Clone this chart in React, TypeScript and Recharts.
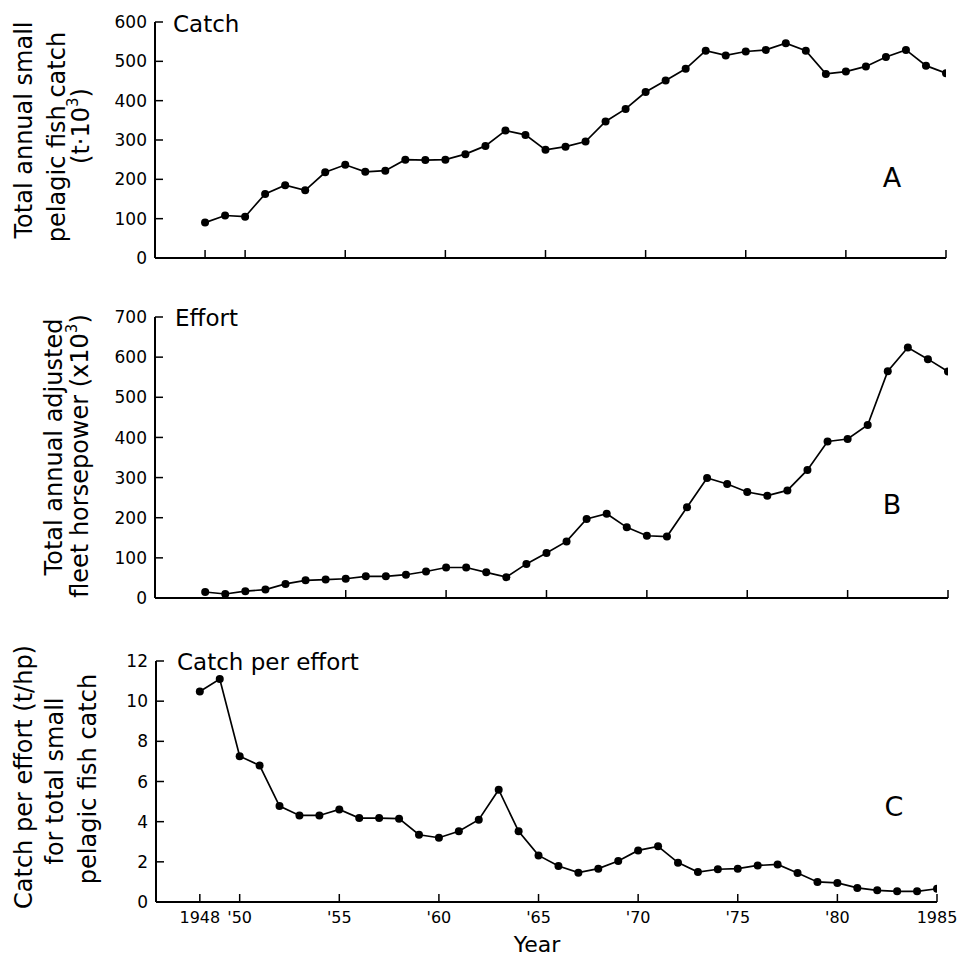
import React from 'react';
import { LineChart, Line, XAxis, YAxis } from 'recharts';

const years = [1948, 1949, 1950, 1951, 1952, 1953, 1954, 1955, 1956, 1957, 1958, 1959, 1960, 1961, 1962, 1963, 1964, 1965, 1966, 1967, 1968, 1969, 1970, 1971, 1972, 1973, 1974, 1975, 1976, 1977, 1978, 1979, 1980, 1981, 1982, 1983, 1984, 1985];
const catchValues = [90, 108, 105, 163, 185, 172, 218, 237, 219, 222, 250, 249, 250, 264, 285, 324, 313, 275, 283, 296, 347, 379, 422, 451, 481, 527, 515, 525, 529, 546, 527, 468, 474, 487, 511, 529, 489, 470];
const effortValues = [15, 10, 17, 21, 35, 44, 46, 48, 54, 54, 58, 66, 76, 76, 64, 52, 85, 112, 141, 197, 210, 176, 155, 153, 226, 299, 284, 264, 255, 268, 319, 390, 396, 431, 565, 624, 595, 564];
const cpueValues = [10.48, 11.1, 7.26, 6.8, 4.78, 4.31, 4.31, 4.61, 4.18, 4.18, 4.15, 3.35, 3.2, 3.52, 4.1, 5.59, 3.52, 2.32, 1.79, 1.46, 1.66, 2.04, 2.57, 2.77, 1.96, 1.49, 1.63, 1.66, 1.82, 1.87, 1.44, 1.0, 0.95, 0.7, 0.58, 0.53, 0.53, 0.66];

const xTicks = [1948, 1950, 1955, 1960, 1965, 1970, 1975, 1980, 1985];
const xTickLabels = ['1948', "'50", "'55", "'60", "'65", "'70", "'75", "'80", '1985'];
const effortXTicks = [1955, 1960, 1965, 1970, 1975, 1980, 1985];
const catchTicks = [0, 100, 200, 300, 400, 500, 600];
const effortTicks = [0, 100, 200, 300, 400, 500, 600, 700];
const cpueTicks = [0, 2, 4, 6, 8, 10, 12];

const catchData = years.map((year, i) => ({ year, value: catchValues[i] }));
const effortData = years.map((year, i) => ({ year, value: effortValues[i] }));
const cpueData = years.map((year, i) => ({ year, value: cpueValues[i] }));

const FONT = "'DejaVu Sans', sans-serif";
const MARGIN = 8;

const YTick = (props: any) => {
  const { x, y, payload } = props;
  const ax = x + MARGIN;
  return (
    <g>
      {payload.value !== 0 && <line x1={ax} y1={y} x2={ax + 8} y2={y} stroke="#000" strokeWidth={1.5} />}
      <text x={x} y={y} dy="0.36em" textAnchor="end" fontSize={17} fontFamily={FONT} fill="#000">
        {payload.value}
      </text>
    </g>
  );
};

const makeXTick = (showLabel: boolean) => (props: any) => {
  const { x, y, payload } = props;
  const ay = y - MARGIN;
  const idx = xTicks.indexOf(payload.value);
  return (
    <g>
      <line x1={x} y1={ay} x2={x} y2={ay - 8} stroke="#000" strokeWidth={1.5} />
      {showLabel && (
        <text x={x} y={y + 2} dy="0.71em" textAnchor="middle" fontSize={16} fontFamily={FONT} fill="#000">
          {idx >= 0 ? xTickLabels[idx] : payload.value}
        </text>
      )}
    </g>
  );
};

const XTickNoLabel = makeXTick(false);
const XTickLabel = makeXTick(true);

const dotStyle = { r: 4, fill: '#000', stroke: '#000', strokeWidth: 0 };

const Panel = (p: any) => (
  <div style={{ position: 'absolute', left: 0, top: p.top }}>
    <LineChart width={961} height={p.height} data={p.data} margin={{ top: p.mTop, right: p.mRight, bottom: 0, left: 0 }}>
      <XAxis
        dataKey="year"
        type="number"
        domain={p.xDomain}
        ticks={p.xTicks}
        allowDataOverflow
        height={p.xHeight}
        tickSize={0}
        tickMargin={MARGIN}
        tickLine={false}
        axisLine={{ stroke: '#000', strokeWidth: 2 }}
        tick={p.showLabels ? XTickLabel : XTickNoLabel}
        interval={0}
      />
      <YAxis
        type="number"
        domain={p.yDomain}
        ticks={p.yTicks}
        width={p.yWidth}
        tickSize={0}
        tickMargin={MARGIN}
        tickLine={false}
        axisLine={{ stroke: '#000', strokeWidth: 2 }}
        tick={YTick}
        interval={0}
      />
      <Line
        type="linear"
        dataKey="value"
        stroke="#000"
        strokeWidth={1.7}
        dot={dotStyle}
        activeDot={false}
        isAnimationActive={false}
      />
    </LineChart>
  </div>
);

const RotLabel = ({ x, y, children }: any) => (
  <text
    transform={`translate(${x},${y}) rotate(-90)`}
    textAnchor="middle"
    dominantBaseline="central"
    fontSize={24}
    fontFamily={FONT}
    fill="#000"
  >
    {children}
  </text>
);

export default function App() {
  return (
    <div style={{ position: 'absolute', left: 0, top: 0, width: 961, height: 965, background: '#fff', overflow: 'hidden' }}>
      <Panel top={0} height={300} data={catchData} mTop={22} mRight={15} xHeight={42} yWidth={155}
        xDomain={[1945.5, 1985]} xTicks={xTicks} yDomain={[0, 600]} yTicks={catchTicks} showLabels={false} />
      <Panel top={300} height={320} data={effortData} mTop={17} mRight={13} xHeight={22} yWidth={155}
        xDomain={[1945.5, 1985]} xTicks={effortXTicks} yDomain={[0, 700]} yTicks={effortTicks} showLabels={false} />
      <Panel top={620} height={345} data={cpueData} mTop={41} mRight={24} xHeight={63} yWidth={156}
        xDomain={[1945.8, 1985]} xTicks={xTicks} yDomain={[0, 12]} yTicks={cpueTicks} showLabels={true} />
      <svg width={961} height={965} style={{ position: 'absolute', left: 0, top: 0, pointerEvents: 'none' }}>
        <text x={173} y={32} fontSize={23} fontFamily={FONT} fill="#000">Catch</text>
        <text x={175} y={326} fontSize={23} fontFamily={FONT} fill="#000">Effort</text>
        <text x={177} y={670} fontSize={23} fontFamily={FONT} fill="#000">Catch per effort</text>
        <text x={892} y={187} textAnchor="middle" fontSize={27} fontFamily={FONT} fill="#000">A</text>
        <text x={892} y={514} textAnchor="middle" fontSize={27} fontFamily={FONT} fill="#000">B</text>
        <text x={894} y={816} textAnchor="middle" fontSize={27} fontFamily={FONT} fill="#000">C</text>
        <text x={537} y={952} textAnchor="middle" fontSize={22} fontFamily={FONT} fill="#000">Year</text>
        <RotLabel x={24} y={130}>Total annual small</RotLabel>
        <RotLabel x={57} y={137}>pelagic fish catch</RotLabel>
        <RotLabel x={81} y={126}>(t·10<tspan dy={-8} fontSize={15}>3</tspan><tspan dy={8}>)</tspan></RotLabel>
        <RotLabel x={54} y={447}>Total annual adjusted</RotLabel>
        <RotLabel x={80} y={456}>fleet horsepower (x10<tspan dy={-8} fontSize={15}>3</tspan><tspan dy={8}>)</tspan></RotLabel>
        <RotLabel x={24} y={777}>Catch per effort (t/hp)</RotLabel>
        <RotLabel x={55} y={781}>for total small</RotLabel>
        <RotLabel x={88} y={779}>pelagic fish catch</RotLabel>
      </svg>
    </div>
  );
}
